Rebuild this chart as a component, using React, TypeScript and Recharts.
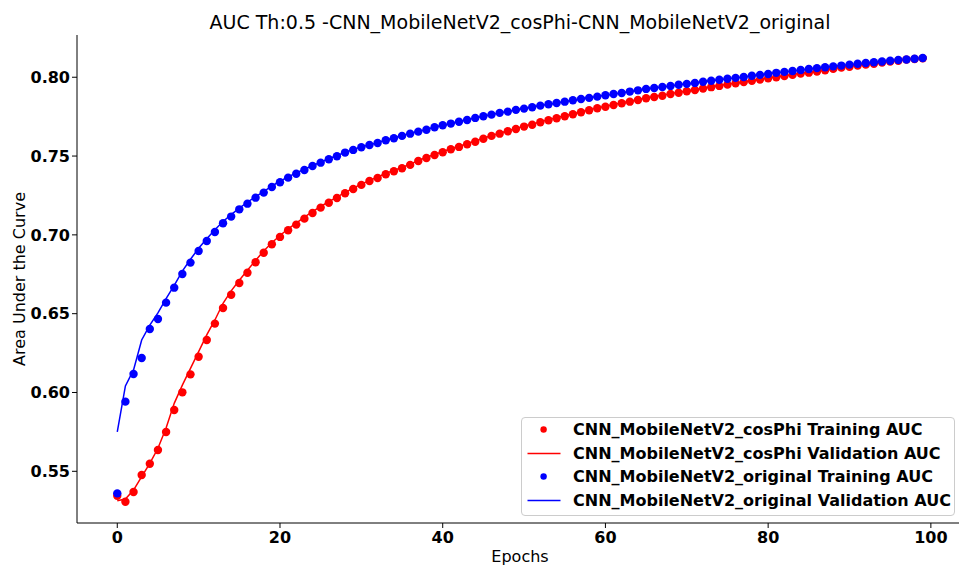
import { LineChart, Line, XAxis, YAxis, Legend } from "recharts"

const TITLE = "AUC Th:0.5 -CNN_MobileNetV2_cosPhi-CNN_MobileNetV2_original"
const SERIES_NAMES = [
  "CNN_MobileNetV2_cosPhi Training AUC",
  "CNN_MobileNetV2_cosPhi Validation AUC",
  "CNN_MobileNetV2_original Training AUC",
  "CNN_MobileNetV2_original Validation AUC",
]
const X_TICKS = [0, 20, 40, 60, 80, 100]
const Y_TICKS = [0.55, 0.6, 0.65, 0.7, 0.75, 0.8]

const cosPhiTrain = [
  0.5345, 0.5307, 0.5369, 0.5477, 0.5548, 0.5635, 0.5749, 0.5889, 0.6001, 0.6115,
  0.6227, 0.6333, 0.6437, 0.6536, 0.662, 0.6695, 0.676, 0.6826, 0.6887, 0.694,
  0.6987, 0.7029, 0.7065, 0.7103, 0.7139, 0.7173, 0.7204, 0.7234, 0.7264, 0.7291,
  0.7317, 0.7342, 0.7361, 0.7385, 0.7404, 0.7423, 0.7444, 0.7469, 0.7488, 0.7507,
  0.7524, 0.7543, 0.7558, 0.7575, 0.7591, 0.761, 0.7628, 0.7642, 0.7657, 0.7672,
  0.7687, 0.7699, 0.7714, 0.7727, 0.774, 0.7753, 0.7765, 0.7778, 0.7791, 0.7803,
  0.7813, 0.7824, 0.7835, 0.7845, 0.7856, 0.7867, 0.7875, 0.7883, 0.7894, 0.7902,
  0.7911, 0.7919, 0.7928, 0.7937, 0.7945, 0.7953, 0.7962, 0.797, 0.7978, 0.7985,
  0.7994, 0.8, 0.8008, 0.8015, 0.8023, 0.8029, 0.8036, 0.8044, 0.8053, 0.8061,
  0.8067, 0.8074, 0.808, 0.8086, 0.8093, 0.8099, 0.8105, 0.8112, 0.8116, 0.812,
]

const cosPhiVal = [
  0.5313, 0.5324, 0.5381, 0.5466, 0.555, 0.5646, 0.5775, 0.5931, 0.6047, 0.6153,
  0.6259, 0.6365, 0.646, 0.6566, 0.6645, 0.6712, 0.6775, 0.6838, 0.6898, 0.695,
  0.6996, 0.7038, 0.7075, 0.7112, 0.7147, 0.718, 0.7211, 0.724, 0.7269, 0.7296,
  0.7322, 0.7346, 0.7367, 0.739, 0.7409, 0.7428, 0.7449, 0.7472, 0.7492, 0.751,
  0.7528, 0.7546, 0.7562, 0.7578, 0.7595, 0.7613, 0.763, 0.7645, 0.766, 0.7675,
  0.769, 0.7702, 0.7717, 0.773, 0.7743, 0.7756, 0.7768, 0.778, 0.7793, 0.7805,
  0.7816, 0.7827, 0.7838, 0.7848, 0.7859, 0.7869, 0.7878, 0.7886, 0.7896, 0.7905,
  0.7914, 0.7922, 0.7931, 0.7939, 0.7948, 0.7956, 0.7964, 0.7972, 0.798, 0.7988,
  0.7996, 0.8003, 0.801, 0.8017, 0.8025, 0.8031, 0.8038, 0.8046, 0.8055, 0.8062,
  0.8069, 0.8076, 0.8082, 0.8088, 0.8095, 0.8101, 0.8107, 0.8113, 0.8117, 0.8121,
]

const originalTrain = [
  0.536, 0.5942, 0.6117, 0.6219, 0.6403, 0.6466, 0.657, 0.6665, 0.6752, 0.6824,
  0.6898, 0.6961, 0.7018, 0.7074, 0.7116, 0.7162, 0.7198, 0.7236, 0.7268, 0.7304,
  0.7334, 0.7363, 0.7388, 0.7412, 0.7437, 0.7458, 0.748, 0.7499, 0.7522, 0.7539,
  0.7556, 0.757, 0.7583, 0.76, 0.7613, 0.7628, 0.7642, 0.7655, 0.7667, 0.7683,
  0.7695, 0.7706, 0.7718, 0.7729, 0.7742, 0.7753, 0.7763, 0.7774, 0.7782, 0.7793,
  0.7801, 0.781, 0.782, 0.7829, 0.7837, 0.7845, 0.7854, 0.7862, 0.7869, 0.7877,
  0.7886, 0.7894, 0.79, 0.7909, 0.7917, 0.7926, 0.7932, 0.7938, 0.7945, 0.7952,
  0.7958, 0.7964, 0.7971, 0.7978, 0.7984, 0.799, 0.7996, 0.8002, 0.8009, 0.8015,
  0.8021, 0.8028, 0.8034, 0.804, 0.8046, 0.8052, 0.8058, 0.8063, 0.8069, 0.8074,
  0.808, 0.8086, 0.809, 0.8095, 0.81, 0.8105, 0.8109, 0.8113, 0.8117, 0.8122,
]

const originalVal = [
  0.575, 0.6042, 0.6143, 0.6333, 0.6428, 0.6505, 0.6595, 0.668, 0.677, 0.6845,
  0.6915, 0.6975, 0.7032, 0.7085, 0.7128, 0.717, 0.7207, 0.7243, 0.7275, 0.731,
  0.734, 0.7368, 0.7393, 0.7416, 0.744, 0.7461, 0.7483, 0.7502, 0.7524, 0.7541,
  0.7558, 0.7572, 0.7585, 0.7602, 0.7615, 0.763, 0.7643, 0.7656, 0.7668, 0.7684,
  0.7696, 0.7707, 0.7719, 0.773, 0.7742, 0.7753, 0.7764, 0.7774, 0.7783, 0.7793,
  0.7802, 0.7811, 0.782, 0.7829, 0.7837, 0.7846, 0.7854, 0.7862, 0.787, 0.7878,
  0.7886, 0.7894, 0.7901, 0.7909, 0.7917, 0.7926, 0.7932, 0.7938, 0.7945, 0.7952,
  0.7958, 0.7964, 0.7971, 0.7978, 0.7984, 0.799, 0.7996, 0.8002, 0.8009, 0.8015,
  0.8021, 0.8028, 0.8034, 0.804, 0.8046, 0.8052, 0.8058, 0.8063, 0.8069, 0.8074,
  0.808, 0.8086, 0.809, 0.8095, 0.81, 0.8105, 0.8109, 0.8113, 0.8117, 0.8122,
]

const data = cosPhiTrain.map((v, i) => ({
  epoch: i,
  cosPhiTrain: v,
  cosPhiVal: cosPhiVal[i],
  originalTrain: originalTrain[i],
  originalVal: originalVal[i],
}))

const FONT = "DejaVu Sans, Verdana, sans-serif"
const RED = "#ff0000"
const BLUE = "#0000ff"

const legendRows = [
  { name: SERIES_NAMES[0], color: RED, kind: "dot" },
  { name: SERIES_NAMES[1], color: RED, kind: "line" },
  { name: SERIES_NAMES[2], color: BLUE, kind: "dot" },
  { name: SERIES_NAMES[3], color: BLUE, kind: "line" },
]

const LegendBox = () => (
  <div
    style={{
      width: 434,
      height: 99,
      boxSizing: "border-box",
      border: "1px solid #cccccc",
      borderRadius: 4,
      background: "rgba(255,255,255,0.8)",
      position: "relative",
    }}
  >
    {legendRows.map((r, i) => (
      <div
        key={r.name}
        style={{
          position: "absolute",
          left: 0,
          top: 0.3 + i * 23.4,
          height: 23.4,
          display: "flex",
          alignItems: "center",
        }}
      >
        <svg width={51} height={23} style={{ display: "block" }}>
          {r.kind === "dot" ? (
            <circle cx={21.6} cy={11.5} r={3.2} fill={r.color} />
          ) : (
            <line x1={5.5} x2={38.5} y1={11.5} y2={11.5} stroke={r.color} strokeWidth={1.5} />
          )}
        </svg>
        <span style={{ fontFamily: FONT, fontWeight: "bold", fontSize: 16, color: "#000", whiteSpace: "nowrap" }}>
          {r.name}
        </span>
      </div>
    ))}
  </div>
)

export default function App() {
  return (
    <div style={{ position: "absolute", left: 0, top: 0, width: 959, height: 566, overflow: "hidden", background: "#fff" }}>
      <LineChart width={966} height={566} data={data} margin={{ top: 35, right: 3, bottom: 0, left: 0 }}>
        <text x={520} y={29} textAnchor="middle" fontFamily={FONT} fontSize={19} fill="#000">
          {TITLE}
        </text>
        <XAxis
          dataKey="epoch"
          type="number"
          domain={[-4.95, 103.95]}
          allowDataOverflow
          ticks={X_TICKS}
          height={43}
          tickSize={5}
          tickMargin={4}
          axisLine={{ stroke: "#000", strokeWidth: 1 }}
          tickLine={{ stroke: "#000" }}
          tick={{ fontFamily: FONT, fontWeight: "bold", fontSize: 16, fill: "#000" }}
          label={{ value: "Epochs", position: "insideBottom", offset: 4, fontFamily: FONT, fontSize: 16, fill: "#000" }}
        />
        <XAxis
          xAxisId="top"
          orientation="top"
          dataKey="epoch"
          type="number"
          domain={[-4.95, 103.95]}
          height={0}
          tick={false}
          tickLine={false}
          axisLine={{ stroke: "#000", strokeWidth: 1 }}
        />
        <YAxis
          type="number"
          domain={[0.5172, 0.8268]}
          allowDataOverflow
          ticks={Y_TICKS}
          width={77}
          tickSize={5}
          tickMargin={2}
          tickFormatter={(v: number) => v.toFixed(2)}
          axisLine={{ stroke: "#000", strokeWidth: 1 }}
          tickLine={{ stroke: "#000" }}
          tick={{ fontFamily: FONT, fontWeight: "bold", fontSize: 16, fill: "#000" }}
          label={{
            value: "Area Under the Curve",
            angle: -90,
            position: "insideLeft",
            offset: 19,
            style: { textAnchor: "middle" },
            fontFamily: FONT,
            fontSize: 16,
            fill: "#000",
          }}
        />
        <Line
          dataKey="cosPhiTrain"
          stroke="none"
          dot={{ r: 4.2, fill: RED, stroke: "none" }}
          activeDot={false}
          isAnimationActive={false}
        />
        <Line
          dataKey="cosPhiVal"
          type="linear"
          stroke={RED}
          strokeWidth={1.5}
          dot={false}
          activeDot={false}
          isAnimationActive={false}
        />
        <Line
          dataKey="originalTrain"
          stroke="none"
          dot={{ r: 4.2, fill: BLUE, stroke: "none" }}
          activeDot={false}
          isAnimationActive={false}
        />
        <Line
          dataKey="originalVal"
          type="linear"
          stroke={BLUE}
          strokeWidth={1.5}
          dot={false}
          activeDot={false}
          isAnimationActive={false}
        />
        <Legend
          layout="horizontal"
          verticalAlign="middle"
          align="center"
          content={<LegendBox />}
          wrapperStyle={{ position: "absolute", left: 521, top: 417, width: 434, height: 99 }}
        />
      </LineChart>
    </div>
  )
}
